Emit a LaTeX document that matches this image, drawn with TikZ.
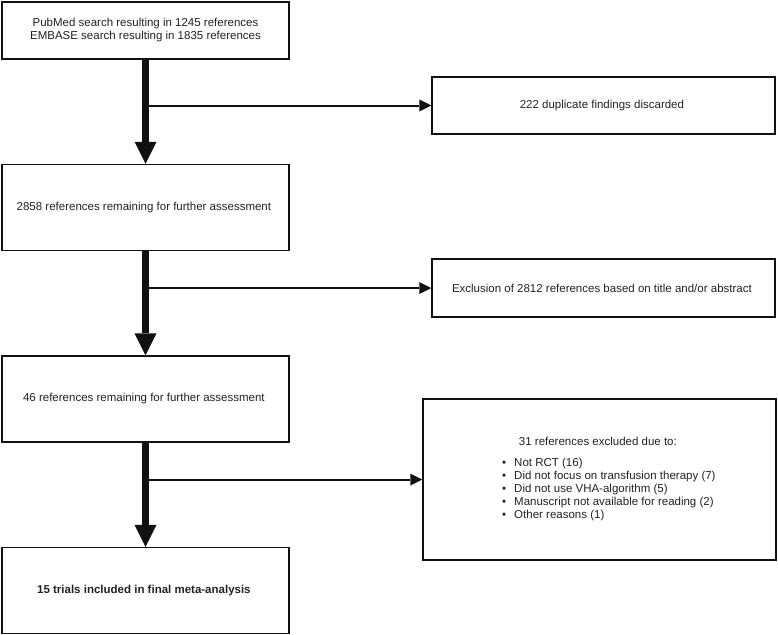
\documentclass[tikz,border=0pt]{standalone}
\usepackage{fontspec}
\setmainfont{Liberation Sans}
\usepackage{tikz}
\usetikzlibrary{positioning,arrows.meta}
\usepackage{xcolor}
\definecolor{inkblack}{HTML}{111111}
\definecolor{textgray}{HTML}{222222}

\begin{document}
\begin{tikzpicture}[
      x=1pt, y=-1pt,
      every node/.style={font=\fontsize{11.5}{13}\selectfont, text=textgray},
      box/.style={
        draw=inkblack, line width=1.5pt,
        inner sep=0pt,
        align=center
      },
      mainbox/.style={box, minimum width=287pt, minimum height=86pt},
      mainflow/.style={draw=inkblack, line width=7pt,
        -{Triangle[length=22pt, width=22pt, line width=0pt]}},
      sideflow/.style={draw=inkblack, line width=2pt,
        -{Triangle[length=12pt, width=12pt, line width=0pt]}}
    ]
      \useasboundingbox (0,0) rectangle (778,634);
      \node[mainbox, minimum height=57pt] (search) at (145.5,30.5) {
        PubMed search resulting in 1245 references\\
        EMBASE search resulting in 1835 references
      };
      \node[mainbox, below=104pt of search] (remain1) {
        2858 references remaining for further assessment
      };
      \node[mainbox, below=104pt of remain1] (remain2) {
        46 references remaining for further assessment
      };
      \node[mainbox, below=104pt of remain2] (final) {
        \textbf{15 trials included in final meta-analysis}
      };
      \node[box, minimum width=343pt, minimum height=57pt] (dupl) at (603.5,105.5) {
        222 duplicate findings discarded
      };
      \node[box, minimum width=343pt, minimum height=58pt] (title) at (603.5,288) {
        Exclusion of 2812 references based on title and/or abstract
      };
      \node[box, minimum width=353pt, minimum height=161pt] (fulltext) at (599.5,479.5) {
        \begin{tabular}{@{}c@{}}
          31 references excluded due to:\\[8pt]
          \hspace*{22pt}\begin{tabular}{@{}l@{}}
            \textbullet\hspace{8pt}Not RCT (16)\\
            \textbullet\hspace{8pt}Did not focus on transfusion therapy (7)\\
            \textbullet\hspace{8pt}Did not use VHA-algorithm (5)\\
            \textbullet\hspace{8pt}Manuscript not available for reading (2)\\
            \textbullet\hspace{8pt}Other reasons (1)
          \end{tabular}\\[2pt]
        \end{tabular}
      };
      \coordinate (split1) at (search.south |- dupl.west);
      \coordinate (split2) at (remain1.south |- title.west);
      \coordinate (split3) at (remain2.south |- fulltext.west);
      \draw[mainflow] (search) -- (remain1);
      \draw[mainflow] (remain1) -- (remain2);
      \draw[mainflow] (remain2) -- (final);
      \draw[sideflow] (split1) -- (dupl);
      \draw[sideflow] (split2) -- (title);
      \draw[sideflow] (split3) -- (fulltext);
    \end{tikzpicture}
\end{document}
